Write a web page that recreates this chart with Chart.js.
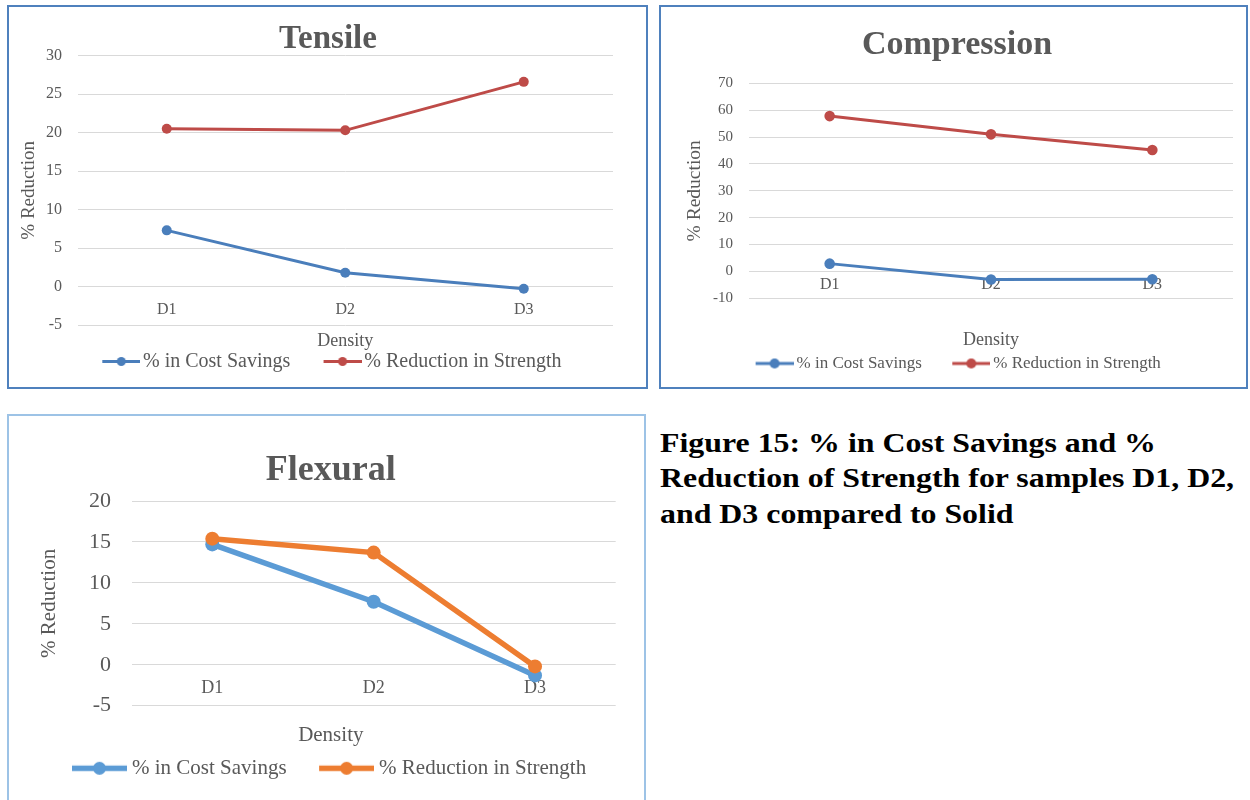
<!DOCTYPE html>
<html>
<head>
<meta charset="utf-8">
<title>% in Cost Savings and % Reduction of Strength</title>
<script src="https://cdn.jsdelivr.net/npm/chart.js@4.4.1/dist/chart.umd.min.js"></script>
<style>
  html, body { margin: 0; padding: 0; background: #ffffff; }
  body { width: 1250px; height: 800px; position: relative; overflow: hidden; }
  canvas { position: absolute; }
  .frame { position: absolute; box-sizing: border-box; pointer-events: none; z-index: 2; }
  #caption {
    position: absolute; left: 660px; top: 426px;
    font: bold 27px/35.3px "Liberation Serif", "Times New Roman", serif;
    color: #000000; white-space: nowrap;
    transform: scaleX(1.18); transform-origin: 0 0;
  }
</style>
</head>
<body>
<canvas id="tensile"></canvas>
<canvas id="compression"></canvas>
<canvas id="flexural"></canvas>
<div class="frame" style="left:7px;top:5px;width:641px;height:384px;border:2px solid #4F81BD;"></div>
<div class="frame" style="left:659px;top:5px;width:589px;height:384px;border:2px solid #4F81BD;"></div>
<div class="frame" style="left:7px;top:414px;width:639px;height:400px;border:2px solid #9DC3E6;"></div>
<div id="caption">Figure 15: % in Cost Savings and %<br>Reduction of Strength for samples D1, D2,<br>and D3 compared to Solid</div>

<script>
// ---- data ----
const densityLabels = ['D1', 'D2', 'D3'];
const seriesNames = ['% in Cost Savings', '% Reduction in Strength'];

const tensileCostSavings = [7.3, 1.8, -0.3];
const tensileStrengthReduction = [20.5, 20.3, 26.6];
const tensileYRange = [-5, 30];
const tensileYStep = 5;

const compressionCostSavings = [2.9, -3.0, -2.9];
const compressionStrengthReduction = [57.8, 51.0, 45.2];
const compressionYRange = [-10, 70];
const compressionYStep = 10;

const flexuralCostSavings = [14.7, 7.7, -1.3];
const flexuralStrengthReduction = [15.4, 13.7, -0.2];
const flexuralYRange = [-5, 20];
const flexuralYStep = 5;

// ---- shared styling ----
const FONT = '"Liberation Serif", "Times New Roman", serif';
const TEXT = '#595959';
const GRID = '#D9D9D9';
Chart.defaults.font.family = FONT;
Chart.defaults.color = TEXT;

const measureCtx = document.createElement('canvas').getContext('2d');
function textWidth(str, size) {
  measureCtx.font = size + 'px ' + FONT;
  return measureCtx.measureText(str).width;
}

// Legend key: a short line with a round marker, right-aligned in the image
function legendKey(width, color, lineW, radius, keyW) {
  const h = Math.ceil(radius * 2 + 4);
  const c = document.createElement('canvas');
  c.width = Math.max(1, Math.round(width));
  c.height = h;
  const g = c.getContext('2d');
  const w = c.width;
  g.strokeStyle = color;
  g.lineWidth = lineW;
  g.beginPath();
  g.moveTo(w - keyW, h / 2);
  g.lineTo(w, h / 2);
  g.stroke();
  g.fillStyle = color;
  g.beginPath();
  g.arc(w - keyW / 2, h / 2, radius, 0, Math.PI * 2);
  g.fill();
  return c;
}

// Builds one panel; layout numbers are page coordinates of the wanted boxes
function drawPanel(id, cfg) {
  const cx = cfg.box.x, cy = cfg.box.y, cw = cfg.box.w, ch = cfg.box.h;
  const el = document.getElementById(id);
  el.style.left = cx + 'px';
  el.style.top = cy + 'px';
  el.width = cw;
  el.height = ch;

  // horizontal: left padding puts the y-axis title, right box keeps the title centred
  const yLh = cfg.yTitle.size * 1.2;
  let padL = cfg.yTitle.cx - cx - yLh / 2;
  const titleMid = cfg.title.cx - cx;
  let padR = cw + padL - 2 * titleMid;
  let rightW = cw - padR - (cfg.plot.r - cx);
  if (rightW < 0) { padL += rightW; padR += rightW; rightW = 0; }
  const yTitlePad = cfg.yTitle.cx - cx - padL - yLh / 2;
  const yWidth = cfg.plot.l - cx - padL;

  // vertical: title above the plot
  const tLh = cfg.title.size * 1.2;
  const tPadTop = cfg.title.cy - cy - tLh / 2;
  const tPadBottom = cfg.plot.t - cy - tPadTop - tLh;
  const B = cfg.plot.b - cy;

  // legend row
  const L = cfg.legend;
  const F = L.size;
  const t1 = textWidth(seriesNames[0], F);
  const t2 = textWidth(seriesNames[1], F);
  const K = L.itemGap + L.key + L.gap - F / 2;
  const rowW = 2 * (K + F / 2) + t1 + t2;
  const maxW = cw - padL - padR;
  let lp = 2 * ((padL + cw - padR - rowW) / 2 + K + F / 2 - L.gap - L.key - (L.start - cx));
  lp = Math.min(lp, L.cy - cy - F / 2 - B - 1, maxW - (2 * K + F + t1 + t2) - 3);
  lp = Math.max(lp, 1);
  const boxW = K - lp;
  const imgW = boxW + F - 2 * L.gap;
  const legendTop = L.cy - cy - F / 2 - lp;
  const padBottom = ch - (legendTop + F + lp + 10);
  const keys = cfg.colors.map(c => legendKey(imgW, c, L.lineW, L.radius, L.key));

  // category labels sit under the zero line
  const [yMin, yMax] = cfg.range;
  const zeroPx = cfg.plot.b - (0 - yMin) / (yMax - yMin) * (cfg.plot.b - cfg.plot.t);
  const catPad = cfg.cat.cy - zeroPx - cfg.cat.size * 0.6;

  // axis title "Density"
  const dLh = cfg.density.size * 1.2;
  const scales = {
    x: {
      type: 'category',
      position: { y: 0 },
      offset: true,
      grid: { display: false, drawTicks: false },
      border: { display: false },
      ticks: { padding: catPad, font: { size: cfg.cat.size }, color: TEXT, maxRotation: 0, autoSkip: false }
    },
    y: {
      type: 'linear',
      position: 'left',
      min: yMin, max: yMax,
      ticks: { stepSize: cfg.step, padding: cfg.plot.l - cfg.ticks.right, font: { size: cfg.ticks.size }, color: TEXT },
      grid: { color: GRID, lineWidth: 1, drawTicks: false },
      border: { display: false },
      title: { display: true, text: '% Reduction', font: { size: cfg.yTitle.size }, color: TEXT, padding: { top: yTitlePad, bottom: 0 } },
      afterFit(s) { s.width = yWidth; }
    },
    yR: {
      type: 'linear',
      position: 'right',
      display: rightW > 0,
      grid: { display: false, drawTicks: false },
      border: { display: false },
      ticks: { display: false },
      afterFit(s) { s.width = rightW; }
    }
  };
  let subtitle = { display: false };
  if (cfg.density.mode === 'axis') {
    const hx = legendTop - B;
    const pb = legendTop - dLh / 2 - (cfg.density.cy - cy);
    scales.x2 = {
      type: 'category',
      position: 'bottom',
      grid: { display: false, drawTicks: false },
      border: { display: false },
      ticks: { display: false },
      title: { display: true, text: 'Density', font: { size: cfg.density.size }, color: TEXT, padding: { top: 0, bottom: pb } },
      afterFit(s) { s.height = hx; }
    };
  } else {
    const st = cfg.density.cy - cy - B - dLh / 2;
    subtitle = {
      display: true, position: 'bottom', text: 'Density', weight: 500,
      font: { size: cfg.density.size, weight: 'normal' }, color: TEXT,
      padding: { top: st, bottom: legendTop - (B + st + dLh) }
    };
  }

  return new Chart(el, {
    type: 'line',
    data: {
      labels: densityLabels,
      datasets: cfg.values.map((vals, i) => ({
        label: seriesNames[i],
        data: vals,
        borderColor: cfg.colors[i],
        backgroundColor: cfg.colors[i],
        pointBackgroundColor: cfg.colors[i],
        pointBorderColor: cfg.colors[i],
        pointBorderWidth: 0,
        pointRadius: cfg.pointRadius,
        pointHoverRadius: cfg.pointRadius,
        borderWidth: cfg.lineWidth,
        tension: 0,
        fill: false,
        order: cfg.values.length - 1 - i
      }))
    },
    options: {
      responsive: false,
      animation: false,
      devicePixelRatio: 1,
      layout: { padding: { left: padL, right: padR, top: 0, bottom: padBottom } },
      scales,
      plugins: {
        tooltip: { enabled: false },
        title: {
          display: true, text: cfg.title.text, color: TEXT,
          font: { size: cfg.title.size, weight: 'bold' },
          padding: { top: tPadTop, bottom: tPadBottom }
        },
        subtitle,
        legend: {
          position: 'bottom',
          labels: {
            usePointStyle: true,
            pointStyleWidth: boxW,
            padding: lp,
            color: TEXT,
            font: { size: F },
            generateLabels(chart) {
              const items = Chart.defaults.plugins.legend.labels.generateLabels(chart);
              items.sort((a, b) => a.datasetIndex - b.datasetIndex);
              items.forEach(it => { it.pointStyle = keys[it.datasetIndex]; it.fontColor = TEXT; });
              return items;
            }
          }
        }
      }
    }
  });
}

drawPanel('tensile', {
  box: { x: 9, y: 7, w: 637, h: 380 },
  plot: { l: 77.5, r: 613, t: 55.7, b: 325 },
  range: tensileYRange, step: tensileYStep,
  values: [tensileCostSavings, tensileStrengthReduction],
  colors: ['#4A7EBB', '#BE4B48'],
  lineWidth: 3, pointRadius: 5,
  title: { text: 'Tensile', size: 33, cx: 328, cy: 39.5 },
  yTitle: { size: 19, cx: 29 },
  ticks: { size: 16, right: 62 },
  cat: { size: 16, cy: 309.7 },
  density: { mode: 'axis', size: 18, cy: 341.5 },
  legend: { size: 20, cy: 361.5, start: 98, key: 38, gap: 3, itemGap: 33, lineW: 3, radius: 4.5 }
});

drawPanel('compression', {
  box: { x: 661, y: 7, w: 585, h: 380 },
  plot: { l: 749, r: 1233, t: 83.3, b: 298.3 },
  range: compressionYRange, step: compressionYStep,
  values: [compressionCostSavings, compressionStrengthReduction],
  colors: ['#4A7EBB', '#BE4B48'],
  lineWidth: 3, pointRadius: 5.3,
  title: { text: 'Compression', size: 34, cx: 957, cy: 45 },
  yTitle: { size: 19.5, cx: 695 },
  ticks: { size: 15, right: 733 },
  cat: { size: 16, cy: 284.7 },
  density: { mode: 'axis', size: 18, cy: 340.5 },
  legend: { size: 17, cy: 363.5, start: 755.6, key: 38, gap: 3, itemGap: 30.5, lineW: 3, radius: 5 }
});

drawPanel('flexural', {
  box: { x: 9, y: 417, w: 635, h: 383 },
  plot: { l: 131.6, r: 615.7, t: 501, b: 705.7 },
  range: flexuralYRange, step: flexuralYStep,
  values: [flexuralCostSavings, flexuralStrengthReduction],
  colors: ['#5B9BD5', '#ED7D31'],
  lineWidth: 5.5, pointRadius: 7,
  title: { text: 'Flexural', size: 36, cx: 330.8, cy: 470.5 },
  yTitle: { size: 21, cx: 49 },
  ticks: { size: 22, right: 111 },
  cat: { size: 18, cy: 688.2 },
  density: { mode: 'subtitle', size: 21, cy: 735.7 },
  legend: { size: 21, cy: 768.3, start: 72, key: 55, gap: 5, itemGap: 32.5, lineW: 5.5, radius: 6.5 }
});
</script>
</body>
</html>
